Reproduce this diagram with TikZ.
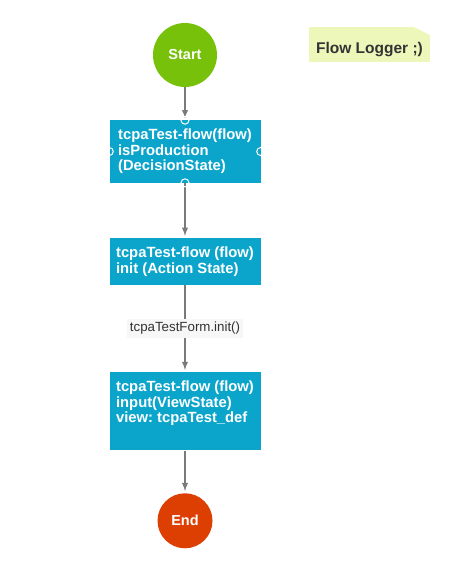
\documentclass[tikz,border=0pt]{standalone}
\usepackage{fontspec}
\setmainfont{Liberation Sans}
\usetikzlibrary{arrows,positioning}
\definecolor{startgreen}{HTML}{77C10B}
\definecolor{stateblue}{HTML}{0BA5CB}
\definecolor{endred}{HTML}{DD3E02}
\definecolor{notegreen}{HTML}{EEF7BA}
\definecolor{linegray}{HTML}{7A7A7A}
\definecolor{textgray}{HTML}{333333}
\definecolor{labelbg}{HTML}{F7F7F7}
\frenchspacing

\tikzset{
  terminal/.style={circle, inner sep=0pt, text=white, font=\fontsize{14.5}{16}\selectfont\bfseries},
  state/.style={rectangle, fill=stateblue, text=white, align=left, minimum width=151pt,
    inner xsep=0pt, inner ysep=8.75pt, text depth=3pt, font=\fontsize{14.8}{15.5}\selectfont\bfseries},
  port/.style={circle, draw=white, line width=1pt, inner sep=0pt, minimum size=8pt},
  logger/.style={rectangle, fill=notegreen, text=textgray,
    minimum width=121pt, minimum height=35pt, inner sep=0pt, text height=20pt, text depth=2.5pt,
    font=\fontsize{15.5}{18}\selectfont\bfseries,
    path picture={\fill [white] ([xshift=-16pt]path picture bounding box.north east)
      -- (path picture bounding box.north east) -- ([yshift=-8pt]path picture bounding box.north east) -- cycle;}},
  flow/.style={draw=linegray, line width=1.8pt, -latex, shorten >=2pt},
}

\begin{document}
\begin{tikzpicture}
\useasboundingbox (0,0) rectangle (448pt,-578pt);
\node [terminal, fill=startgreen, minimum size=64pt] (start) at (185pt,-55pt) {Start};
\node [logger] (logger) at (369.5pt,-44.5pt) {Flow Logger ;)};
\node [state, below=33pt of start] (s1) {tcpaTest-flow(flow)\\isProduction\\(DecisionState)};
\node [state, below=55pt of s1] (s2) {tcpaTest-flow (flow)\\init (Action State)};
\node [state, below=87pt of s2, text depth=19pt] (s3) {tcpaTest-flow (flow)\\input(ViewState)\\view: tcpaTest\_def};
\node [terminal, fill=endred, minimum size=55pt, below=42.5pt of s3] (stop) {End};

\draw [flow] (start) -- (s1);
\draw [flow] (s1) -- (s2);
\draw [flow] (s2) -- node [fill=labelbg, text=textgray, inner sep=3pt, font=\fontsize{13.3}{15}\selectfont] (call) {tcpaTestForm.init()} (s3);
\draw [flow] (s3) -- (stop);
\node [port] (p1) at (s1.north) {};
\node [port] (p2) at (s1.west) {};
\node [port] (p3) at (s1.east) {};
\node [port] (p4) at (s1.south) {};
\end{tikzpicture}
\end{document}
